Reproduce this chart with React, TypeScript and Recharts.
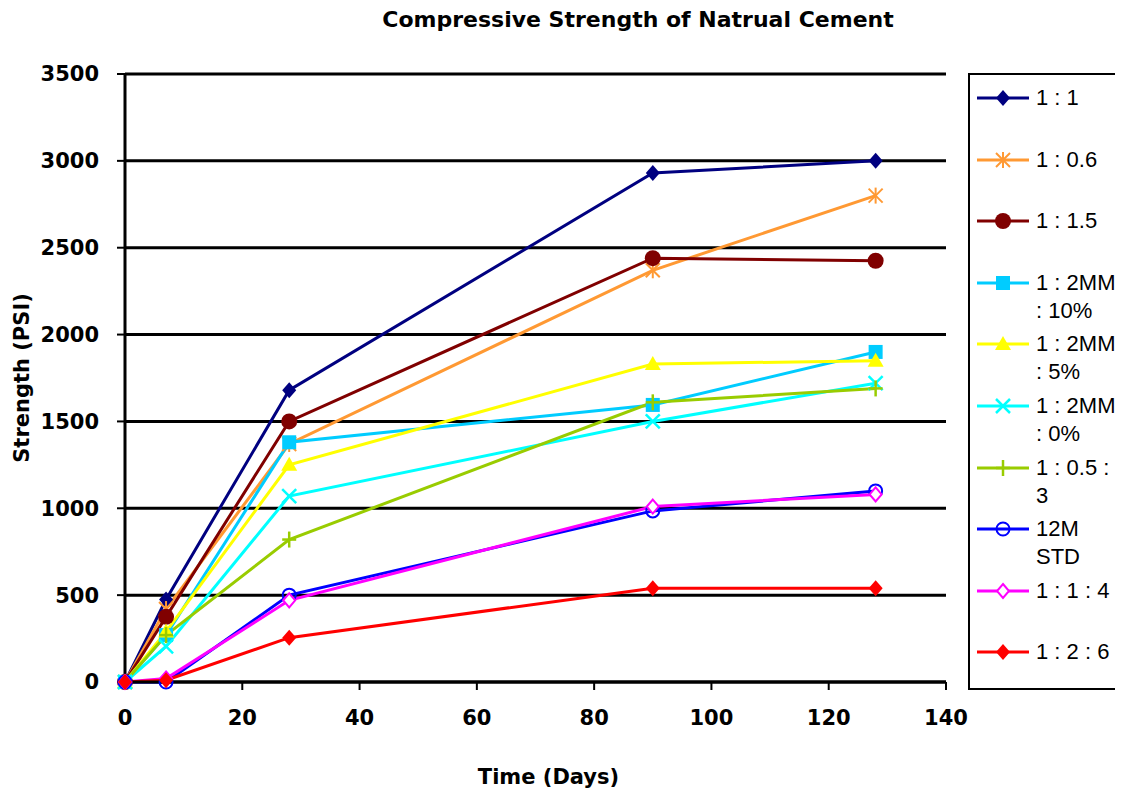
import React from 'react';
import { LineChart, XAxis, YAxis, Line, CartesianGrid } from 'recharts';

// days of testing
const days = [0, 7, 28, 90, 128];

// strength (psi) per mix
const mix11 = [0, 475, 1680, 2930, 3000];
const mix106 = [0, 420, 1370, 2370, 2800];
const mix115 = [0, 375, 1500, 2440, 2425];
const mm10 = [0, 270, 1380, 1595, 1900];
const mm5 = [0, 290, 1250, 1830, 1850];
const mm0 = [0, 205, 1070, 1500, 1720];
const mix1053 = [0, 270, 820, 1610, 1690];
const std12m = [0, 0, 500, 985, 1100];
const mix114 = [0, 20, 470, 1010, 1080];
const mix126 = [0, 10, 255, 540, 540];

const xTicks = [0, 20, 40, 60, 80, 100, 120, 140];
const yTicks = [0, 500, 1000, 1500, 2000, 2500, 3000, 3500];

const series = [
	{ key: 'mix11', name: '1 : 1', color: '#000080', shape: 'diamond', values: mix11 },
	{ key: 'mix106', name: '1 : 0.6', color: '#FF9933', shape: 'star', values: mix106 },
	{ key: 'mix115', name: '1 : 1.5', color: '#800000', shape: 'circle', values: mix115 },
	{ key: 'mm10', name: '1 : 2MM\n: 10%', color: '#00CCFF', shape: 'square', values: mm10 },
	{ key: 'mm5', name: '1 : 2MM\n: 5%', color: '#FFFF00', shape: 'triangle', values: mm5 },
	{ key: 'mm0', name: '1 : 2MM\n: 0%', color: '#00FFFF', shape: 'x', values: mm0 },
	{ key: 'mix1053', name: '1 : 0.5 :\n3', color: '#99CC00', shape: 'plus', values: mix1053 },
	{ key: 'std12m', name: '12M\nSTD', color: '#0000FF', shape: 'circleOpen', values: std12m },
	{ key: 'mix114', name: '1 : 1 : 4', color: '#FF00FF', shape: 'diamondOpen', values: mix114 },
	{ key: 'mix126', name: '1 : 2 : 6', color: '#FF0000', shape: 'diamond', values: mix126 },
];

const data = days.map((d, i) => {
	const row: { [key: string]: number } = { day: d };
	series.forEach(s => {
		row[s.key] = s.values[i];
	});
	return row;
});

const Marker = ({ shape, color, cx, cy }: { shape: string; color: string; cx: number; cy: number }) => {
	switch (shape) {
		case 'diamond':
			return <polygon points={`${cx},${cy - 8} ${cx + 7},${cy} ${cx},${cy + 8} ${cx - 7},${cy}`} fill={color} />;
		case 'diamondOpen':
			return (
				<polygon
					points={`${cx},${cy - 7} ${cx + 6},${cy} ${cx},${cy + 7} ${cx - 6},${cy}`}
					fill='#fff'
					stroke={color}
					strokeWidth={2}
				/>
			);
		case 'circle':
			return <circle cx={cx} cy={cy} r={8} fill={color} />;
		case 'circleOpen':
			return <circle cx={cx} cy={cy} r={6.5} fill='none' stroke={color} strokeWidth={2} />;
		case 'square':
			return <rect x={cx - 7} y={cy - 7} width={14} height={14} fill={color} />;
		case 'triangle':
			return <polygon points={`${cx},${cy - 8} ${cx + 8},${cy + 6} ${cx - 8},${cy + 6}`} fill={color} />;
		case 'x':
			return (
				<g stroke={color} strokeWidth={2.5}>
					<line x1={cx - 7} y1={cy - 7} x2={cx + 7} y2={cy + 7} />
					<line x1={cx - 7} y1={cy + 7} x2={cx + 7} y2={cy - 7} />
				</g>
			);
		case 'star':
			return (
				<g stroke={color} strokeWidth={2}>
					<line x1={cx - 7} y1={cy - 7} x2={cx + 7} y2={cy + 7} />
					<line x1={cx - 7} y1={cy + 7} x2={cx + 7} y2={cy - 7} />
					<line x1={cx} y1={cy - 8} x2={cx} y2={cy + 8} />
				</g>
			);
		case 'plus':
			return (
				<g stroke={color} strokeWidth={2.5}>
					<line x1={cx - 7} y1={cy} x2={cx + 7} y2={cy} />
					<line x1={cx} y1={cy - 8} x2={cx} y2={cy + 8} />
				</g>
			);
		default:
			return null;
	}
};

const boldFont = { fontFamily: '"DejaVu Sans", sans-serif', fontWeight: 'bold' as const };

export default function App() {
	return (
		<div style={{ position: 'relative', width: 1107, height: 785 }}>
			<div
				style={{
					...boldFont,
					position: 'absolute',
					top: -1,
					left: 630,
					transform: 'translateX(-50%)',
					fontSize: 22,
					whiteSpace: 'nowrap',
					color: '#000',
				}}
			>
				Compressive Strength of Natrual Cement
			</div>
			<LineChart width={980} height={785} data={data} margin={{ top: 66, right: 42, left: 10, bottom: 11 }}>
				<CartesianGrid vertical={false} stroke='#000' strokeWidth={3} />
				<XAxis
					dataKey='day'
					type='number'
					domain={[0, 140]}
					ticks={xTicks}
					height={100}
					axisLine={{ stroke: '#000', strokeWidth: 3 }}
					tickLine={{ stroke: '#000', strokeWidth: 2 }}
					tickSize={8}
					tickMargin={20}
					tick={{ ...boldFont, fontSize: 21, fill: '#000' }}
					label={{
						value: 'Time (Days)',
						position: 'insideBottom',
						offset: -2,
						dx: 13,
						style: { ...boldFont, fontSize: 21, fill: '#000' },
					}}
				/>
				<YAxis
					type='number'
					domain={[0, 3500]}
					ticks={yTicks}
					width={107}
					axisLine={{ stroke: '#000', strokeWidth: 3 }}
					tickLine={{ stroke: '#000', strokeWidth: 2 }}
					tickSize={8}
					tickMargin={18}
					tick={{ ...boldFont, fontSize: 21, fill: '#000' }}
					label={{
						value: 'Strength (PSI)',
						angle: -90,
						position: 'insideLeft',
						offset: 4,
						style: { ...boldFont, fontSize: 21, fill: '#000', textAnchor: 'middle' },
					}}
				/>
				{series.map(s => (
					<Line
						key={s.key}
						dataKey={s.key}
						name={s.name}
						type='linear'
						stroke={s.color}
						strokeWidth={3}
						isAnimationActive={false}
						dot={(p: any) => (
							<Marker key={`${s.key}-${p.index}`} shape={s.shape} color={s.color} cx={p.cx} cy={p.cy} />
						)}
						activeDot={false}
					/>
				))}
			</LineChart>
			<div
				style={{
					position: 'absolute',
					left: 960,
					top: 65,
					width: 150,
					height: 613,
					border: '2px solid #000',
					background: '#fff',
				}}
			>
				{series.map((s, i) => (
					<div
						key={s.key}
						style={{ position: 'absolute', left: 0, top: 9 + i * 61.6, width: 150, height: 60 }}
					>
						<svg width={60} height={28} style={{ position: 'absolute', left: 0, top: 0 }}>
							<line x1={7} y1={14} x2={59} y2={14} stroke={s.color} strokeWidth={3} />
							<Marker shape={s.shape} color={s.color} cx={33} cy={14} />
						</svg>
						<div
							style={{
								position: 'absolute',
								left: 66,
								top: 0,
								fontFamily: '"Liberation Sans", Arial, sans-serif',
								fontSize: 22,
								lineHeight: '28px',
								whiteSpace: 'pre',
								color: '#000',
							}}
						>
							{s.name}
						</div>
					</div>
				))}
			</div>
		</div>
	);
}
